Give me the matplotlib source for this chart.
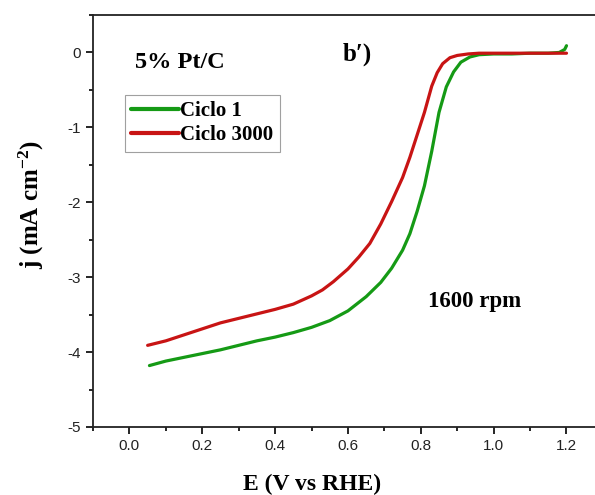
import matplotlib
matplotlib.use("Agg")
import matplotlib.pyplot as plt
from matplotlib.ticker import MultipleLocator

plt.rcParams["mathtext.fontset"] = "custom"
plt.rcParams["mathtext.bf"] = "Liberation Serif:bold"
plt.rcParams["mathtext.rm"] = "Liberation Serif:bold"
plt.rcParams["mathtext.it"] = "Liberation Serif:bold"
plt.rcParams["mathtext.default"] = "rm"

# Linear sweep voltammetry, 5% Pt/C, 1600 rpm
e_ciclo1 = [0.055, 0.10, 0.15, 0.20, 0.25, 0.30, 0.35, 0.40, 0.45, 0.50, 0.55,
            0.60, 0.65, 0.69, 0.72, 0.75, 0.77, 0.79, 0.81, 0.83, 0.85, 0.87,
            0.89, 0.91, 0.935, 0.96, 1.00, 1.05, 1.10, 1.15, 1.18, 1.195, 1.20]
j_ciclo1 = [-4.18, -4.12, -4.07, -4.02, -3.97, -3.91, -3.85, -3.80, -3.74, -3.67, -3.58,
            -3.45, -3.26, -3.07, -2.88, -2.64, -2.42, -2.12, -1.78, -1.32, -0.80, -0.46,
            -0.26, -0.13, -0.06, -0.03, -0.02, -0.02, -0.01, -0.01, 0.00, 0.04, 0.09]

e_ciclo3000 = [0.05, 0.10, 0.15, 0.20, 0.25, 0.30, 0.35, 0.40, 0.45, 0.50, 0.53,
               0.56, 0.60, 0.63, 0.66, 0.69, 0.72, 0.75, 0.77, 0.79, 0.81, 0.83,
               0.845, 0.86, 0.88, 0.90, 0.93, 0.96, 1.00, 1.05, 1.10, 1.15, 1.20]
j_ciclo3000 = [-3.91, -3.85, -3.77, -3.69, -3.61, -3.55, -3.49, -3.43, -3.36, -3.25, -3.17,
               -3.06, -2.89, -2.73, -2.55, -2.29, -1.99, -1.67, -1.40, -1.10, -0.80, -0.45,
               -0.27, -0.15, -0.07, -0.04, -0.02, -0.01, -0.01, -0.01, -0.01, -0.01, -0.01]

series_labels = ["Ciclo 1", "Ciclo 3000"]
x_ticks = [0.0, 0.2, 0.4, 0.6, 0.8, 1.0, 1.2]
y_ticks = [0, -1, -2, -3, -4, -5]

serif = "Liberation Serif"
sans = "Liberation Sans"

fig = plt.figure(figsize=(5.95, 4.95), dpi=100)
ax = fig.add_axes([0.1563, 0.1374, 0.857, 0.8323])

ax.plot(e_ciclo1, j_ciclo1, color="#159a15", lw=2.3, label=series_labels[0],
        solid_capstyle="round", solid_joinstyle="round")
ax.plot(e_ciclo3000, j_ciclo3000, color="#c81414", lw=2.3, label=series_labels[1],
        solid_capstyle="round", solid_joinstyle="round")

ax.set_xlim(-0.1, 1.3)
ax.set_ylim(-5, 0.5)
ax.set_xticks(x_ticks)
ax.set_xticklabels([f"{v:.1f}" for v in x_ticks])
ax.set_yticks(y_ticks)
ax.set_yticklabels([str(v) for v in y_ticks])
ax.xaxis.set_minor_locator(MultipleLocator(0.1))
ax.yaxis.set_minor_locator(MultipleLocator(0.5))
ax.tick_params(which="major", direction="out", length=5, width=1.2,
               labelsize=11, labelcolor="#222222", pad=4)
ax.tick_params(which="minor", direction="out", length=3, width=1.2)
for lab in ax.get_xticklabels() + ax.get_yticklabels():
    lab.set_fontfamily(sans)
for s in ax.spines.values():
    s.set_linewidth(1.3)
    s.set_color("#222222")

ax.set_xlabel("E (V vs RHE)", fontfamily=serif, fontweight="bold", fontsize=17)
ax.xaxis.set_label_coords(0.43, -0.114)
ax.set_ylabel(r"j (mA cm$^{-2}$)", fontfamily=serif, fontweight="bold", fontsize=18)
ax.yaxis.set_label_coords(-0.092, 0.539)

ax.text(0.014, -0.13, "5% Pt/C", fontfamily=serif, fontweight="bold", fontsize=17.5,
        ha="left", va="center")
ax.text(0.585, -0.03, "b\u2032)", fontfamily=serif, fontweight="bold", fontsize=18,
        ha="left", va="center")
ax.text(0.82, -3.33, "1600 rpm", fontfamily=serif, fontweight="bold", fontsize=16.5,
        ha="left", va="center")

leg = ax.legend(loc="upper left", bbox_to_anchor=(0.0627, 0.806),
                prop={"family": serif, "weight": "bold", "size": 15},
                frameon=True, fancybox=False, edgecolor="#888888",
                handlelength=2.3, handletextpad=0.05, borderpad=0.3,
                labelspacing=0.2, borderaxespad=0, handleheight=0.6)
leg.get_frame().set_linewidth(0.8)
for ln in leg.get_lines():
    ln.set_linewidth(3)

fig.savefig("out.png", dpi=100)
